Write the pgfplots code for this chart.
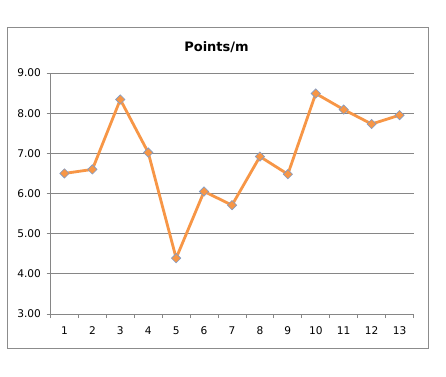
\documentclass[border=0pt]{standalone}
\usepackage{pgfplots}
\pgfplotsset{compat=1.18}
\usepackage{fontspec}
\setmainfont{DejaVu Sans}
\definecolor{lineor}{HTML}{F79646}
\definecolor{markedge}{HTML}{7F9CC8}
\definecolor{gridgray}{HTML}{868686}
\definecolor{boxgray}{HTML}{8C8C8C}
\begin{document}
\begin{tikzpicture}
\path[fill=white] (0pt,0pt) rectangle (446pt,376pt);
\draw[boxgray, line width=0.9pt] (7pt,28pt) rectangle (428pt,349pt);
\node[font=\fontsize{13}{15}\selectfont\bfseries] at (216.5pt,329pt) {Points/m};
\begin{axis}[
  at={(50.5pt,62pt)}, anchor=south west,
  scale only axis, width=363pt, height=241pt,
  xmin=0.5, xmax=13.5, ymin=3, ymax=9,
  axis x line=bottom, axis y line=left,
  axis line style={-, gridgray, line width=0.8pt},
  xtick={1,...,13},
  minor xtick={0.5,1.5,...,13.5},
  ytick={3,4,...,9},
  yticklabel style={/pgf/number format/fixed, /pgf/number format/fixed zerofill, /pgf/number format/precision=2, xshift=-2pt},
  /pgf/number format/assume math mode=true,
  ticklabel style={font=\fontsize{10.6}{12}\selectfont, text=black},
  major x tick style={draw=none},
  minor x tick style={gridgray, line width=0.8pt},
  major y tick style={gridgray, line width=0.8pt},
  tick align=outside,
  major tick length=4pt, minor tick length=4pt,
  ymajorgrids, major grid style={gridgray, line width=0.8pt},
  xticklabel style={yshift=-5pt},
  clip=false,
]
\addplot[color=lineor, line width=2.8pt, mark=square*, mark size=3.3pt,
  mark options={rotate=45, fill=lineor, draw=markedge, line width=0.6pt}]
  coordinates {
  (1,6.50) (2,6.60) (3,8.34) (4,7.02) (5,4.39) (6,6.05) (7,5.71)
  (8,6.92) (9,6.48) (10,8.49) (11,8.09) (12,7.73) (13,7.95)
  };
\end{axis}
\end{tikzpicture}
\end{document}
